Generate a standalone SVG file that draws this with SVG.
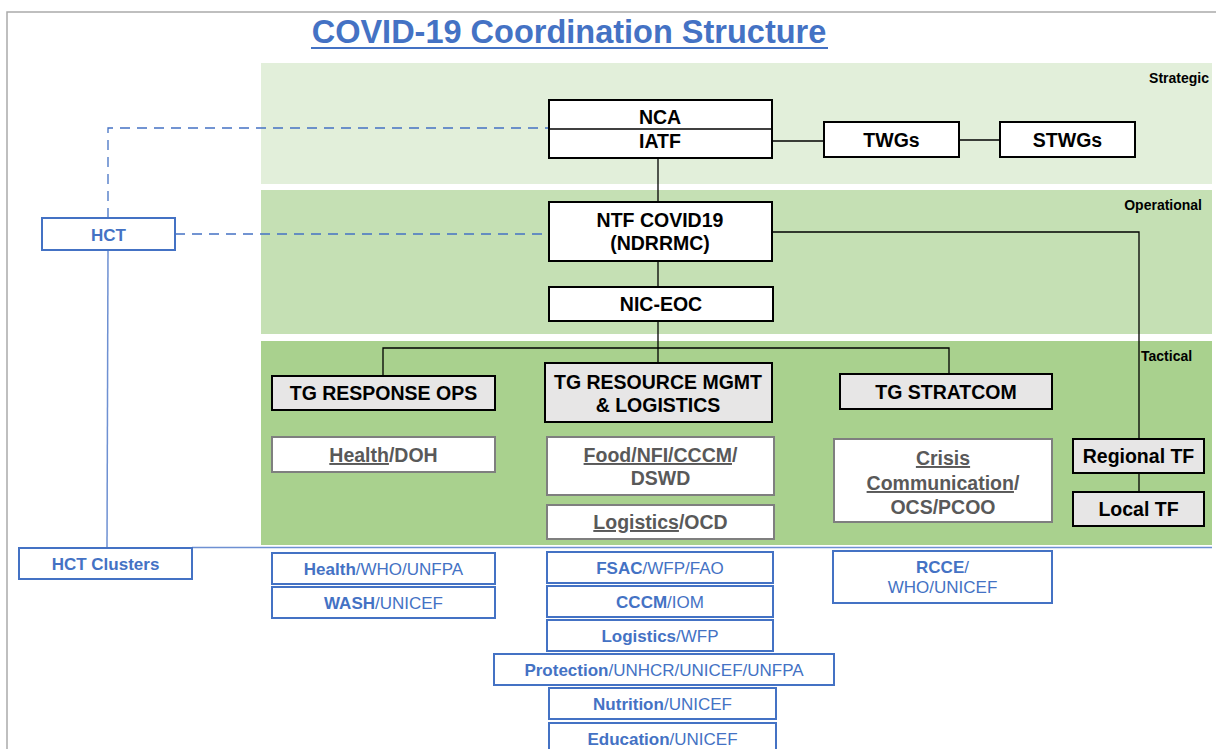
<svg xmlns="http://www.w3.org/2000/svg" width="1216" height="749" viewBox="0 0 1216 749">
<style>
  text { font-family: "Liberation Sans", Arial, sans-serif; font-weight: bold; text-anchor: middle; }
  .dk { font-size: 19.5px; fill: #000; }
  .gr { font-size: 19.5px; fill: #595959; }
  .bl { font-size: 17px; fill: #4472c4; }
  .rg { font-weight: normal; }
  .ul { text-decoration: underline; }
  .lvl { font-size: 14px; fill: #000; }
  .bx { fill: #fff; stroke: #000; stroke-width: 2; }
  .tg { fill: #e7e6e6; stroke: #000; stroke-width: 2; }
  .gb { fill: #fff; stroke: #7f7f7f; stroke-width: 2; }
  .cb { fill: #fff; stroke: #4472c4; stroke-width: 2; }
  .ln { fill: none; stroke: #000; stroke-width: 1.3; }
  .dash { fill: none; stroke: #4472c4; stroke-width: 1.3; stroke-dasharray: 10 7; }
  .bln { fill: none; stroke: #6e90d2; stroke-width: 1.5; }
</style>

<!-- page frame -->
<path d="M7 749 V12 H1216" fill="none" stroke="#ababab" stroke-width="1.5"/>

<!-- title -->
<text x="569" y="43" style="font-size:32.5px;fill:#4472c4">COVID-19 Coordination Structure</text>
<line x1="311" y1="48" x2="828" y2="48" stroke="#4472c4" stroke-width="2.2"/>

<!-- bands -->
<rect x="261" y="63" width="951" height="121" fill="#e2efda"/>
<rect x="261" y="190" width="951" height="144" fill="#c5e0b4"/>
<rect x="261" y="341" width="951" height="204" fill="#a9d18e"/>
<text class="lvl" x="1209" y="83" style="text-anchor:end">Strategic</text>
<text class="lvl" x="1202" y="210" style="text-anchor:end">Operational</text>
<text class="lvl" x="1141" y="361" style="text-anchor:start">Tactical</text>

<!-- connectors -->
<g id="connectors">
  <line class="ln" x1="658" y1="158" x2="658" y2="202"/>
  <line class="ln" x1="658" y1="261" x2="658" y2="287"/>
  <line class="ln" x1="658" y1="321" x2="658" y2="363"/>
  <path class="ln" d="M383 376 V348 H949 V374"/>
  <line class="ln" x1="772" y1="141" x2="824" y2="141"/>
  <line class="ln" x1="959" y1="140" x2="1000" y2="140"/>
  <path class="ln" d="M772 232 H1139 V439"/>
  <line class="ln" x1="1139" y1="473" x2="1139" y2="492"/>
  <path class="dash" d="M108 218 V128 H548"/>
  <path class="dash" d="M175 234 H548"/>
  <line class="bln" x1="108" y1="250" x2="107" y2="548"/>
  <line class="bln" x1="192" y1="547.5" x2="1212" y2="547.5"/>
</g>

<!-- strategic -->
<g id="nca-iatf">
  <rect class="bx" x="549" y="100" width="223" height="58"/>
  <line x1="549" y1="129" x2="772" y2="129" stroke="#000" stroke-width="1.5"/>
  <text class="dk" x="660" y="124">NCA</text>
  <text class="dk" x="660" y="148">IATF</text>
</g>
<g id="twgs">
  <rect class="bx" x="824" y="122" width="135" height="35"/>
  <text class="dk" x="891.5" y="147">TWGs</text>
</g>
<g id="stwgs">
  <rect class="bx" x="1000" y="122" width="135" height="35"/>
  <text class="dk" x="1067.5" y="147">STWGs</text>
</g>

<!-- operational -->
<g id="ntf">
  <rect class="bx" x="549" y="202" width="223" height="59"/>
  <text class="dk" x="660" y="227">NTF COVID19</text>
  <text class="dk" x="660" y="250">(NDRRMC)</text>
</g>
<g id="nic-eoc">
  <rect class="bx" x="549" y="287" width="224" height="34"/>
  <text class="dk" x="661" y="311">NIC-EOC</text>
</g>

<!-- tactical -->
<g id="tg-response">
  <rect class="tg" x="272" y="376" width="223" height="34"/>
  <text class="dk" x="383.5" y="400">TG RESPONSE OPS</text>
</g>
<g id="tg-resource">
  <rect class="tg" x="545" y="363" width="227" height="59"/>
  <text class="dk" x="658" y="389">TG RESOURCE MGMT</text>
  <text class="dk" x="658" y="412">&amp; LOGISTICS</text>
</g>
<g id="tg-stratcom">
  <rect class="tg" x="840" y="374" width="212" height="35"/>
  <text class="dk" x="946" y="399">TG STRATCOM</text>
</g>
<g id="health-doh">
  <rect class="gb" x="272" y="437" width="223" height="35"/>
  <text class="gr" x="383.5" y="462"><tspan class="ul">Health</tspan>/DOH</text>
</g>
<g id="food-dswd">
  <rect class="gb" x="547" y="437" width="227" height="58"/>
  <text class="gr" x="660.5" y="462"><tspan class="ul">Food/NFI/CCCM</tspan>/</text>
  <text class="gr" x="660.5" y="485">DSWD</text>
</g>
<g id="logistics-ocd">
  <rect class="gb" x="547" y="505" width="227" height="34"/>
  <text class="gr" x="660.5" y="529"><tspan class="ul">Logistics</tspan>/OCD</text>
</g>
<g id="crisis-comm">
  <rect class="gb" x="834" y="439" width="218" height="83"/>
  <text class="gr" x="943" y="465"><tspan class="ul">Crisis</tspan></text>
  <text class="gr" x="943" y="490"><tspan class="ul">Communication</tspan>/</text>
  <text class="gr" x="943" y="514">OCS/PCOO</text>
</g>
<g id="regional-tf">
  <rect class="tg" x="1073" y="439" width="131" height="34"/>
  <text class="dk" x="1138.5" y="463">Regional TF</text>
</g>
<g id="local-tf">
  <rect class="tg" x="1073" y="492" width="131" height="34"/>
  <text class="dk" x="1138.5" y="516">Local TF</text>
</g>

<!-- HCT -->
<g id="hct">
  <rect class="cb" x="42" y="218" width="133" height="32"/>
  <text class="bl" x="108.5" y="241">HCT</text>
</g>
<g id="hct-clusters">
  <rect class="cb" x="19" y="548" width="173" height="31"/>
  <text class="bl" x="105.5" y="570">HCT Clusters</text>
</g>

<!-- clusters -->
<g id="c-health">
  <rect class="cb" x="272" y="553" width="223" height="31"/>
  <text class="bl" x="383.5" y="575">Health<tspan class="rg">/WHO/UNFPA</tspan></text>
</g>
<g id="c-wash">
  <rect class="cb" x="272" y="587" width="223" height="31"/>
  <text class="bl" x="383.5" y="609">WASH<tspan class="rg">/UNICEF</tspan></text>
</g>
<g id="c-fsac">
  <rect class="cb" x="547" y="552" width="226" height="31"/>
  <text class="bl" x="660" y="574">FSAC<tspan class="rg">/WFP/FAO</tspan></text>
</g>
<g id="c-cccm">
  <rect class="cb" x="547" y="586" width="226" height="31"/>
  <text class="bl" x="660" y="608">CCCM<tspan class="rg">/IOM</tspan></text>
</g>
<g id="c-logistics">
  <rect class="cb" x="547" y="620" width="226" height="31"/>
  <text class="bl" x="660" y="642">Logistics<tspan class="rg">/WFP</tspan></text>
</g>
<g id="c-protection">
  <rect class="cb" x="494" y="654" width="340" height="31"/>
  <text class="bl" x="664" y="676">Protection<tspan class="rg">/UNHCR/UNICEF/UNFPA</tspan></text>
</g>
<g id="c-nutrition">
  <rect class="cb" x="549" y="688" width="227" height="31"/>
  <text class="bl" x="662.5" y="710">Nutrition<tspan class="rg">/UNICEF</tspan></text>
</g>
<g id="c-education">
  <rect class="cb" x="549" y="723" width="227" height="31"/>
  <text class="bl" x="662.5" y="745">Education<tspan class="rg">/UNICEF</tspan></text>
</g>
<g id="c-rcce">
  <rect class="cb" x="833" y="551" width="219" height="52"/>
  <text class="bl" x="942.5" y="573">RCCE<tspan class="rg">/</tspan></text>
  <text class="bl rg" x="942.5" y="593">WHO/UNICEF</text>
</g>
</svg>
